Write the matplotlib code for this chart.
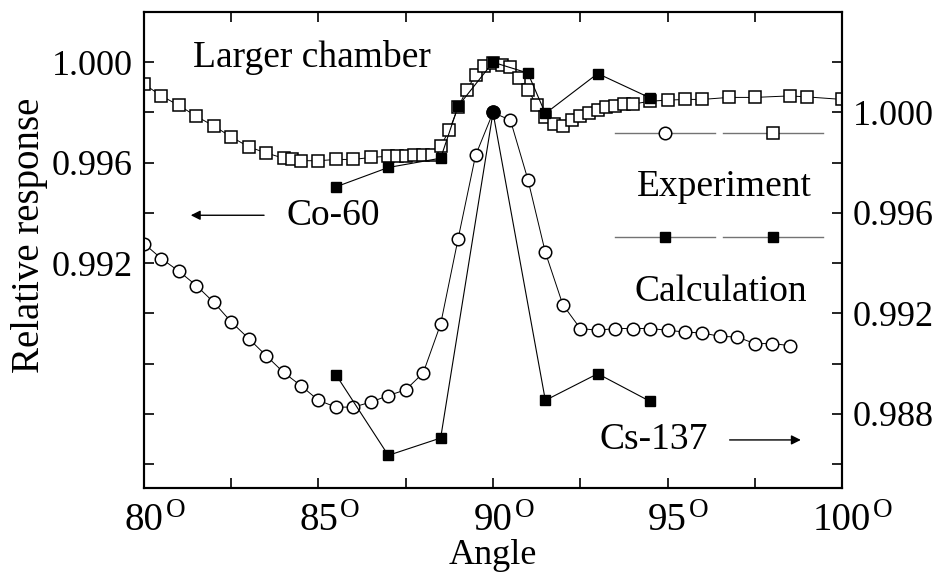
import matplotlib
matplotlib.use("Agg")
import numpy as np
from matplotlib import pyplot as plt
from matplotlib.lines import Line2D

plt.rcParams["font.family"] = ["Liberation Serif", "DejaVu Serif"]

# Co-60 (left axis), calculation = open squares
co_calc_x = [80.0, 80.5, 81.0, 81.5, 82.0, 82.5, 83.0, 83.5, 84.0, 84.25, 84.5,
             85.0, 85.5, 86.0, 86.5, 87.0, 87.25, 87.5, 87.75, 88.0, 88.25,
             88.5, 88.75, 89.0, 89.25, 89.5, 89.75, 90.0, 90.25, 90.5, 90.75,
             91.0, 91.25, 91.5, 91.75, 92.0, 92.25, 92.5, 92.75, 93.0, 93.25,
             93.5, 93.75, 94.0, 94.5, 95.0, 95.5, 96.0, 96.75, 97.5, 98.5,
             99.0, 100.0]
co_calc_y = [0.99913, 0.99866, 0.99828, 0.99785, 0.99746, 0.99703, 0.99663,
             0.99639, 0.99618, 0.99613, 0.99608, 0.99608, 0.99613, 0.99613,
             0.99621, 0.99626, 0.99628, 0.99628, 0.99629, 0.99629, 0.99629,
             0.99666, 0.99730, 0.99820, 0.99891, 0.99948, 0.99984, 0.99997,
             0.99991, 0.99981, 0.99939, 0.99891, 0.99829, 0.99782, 0.99753,
             0.99748, 0.99772, 0.99785, 0.99798, 0.99809, 0.99820, 0.99825,
             0.99832, 0.99833, 0.99845, 0.99849, 0.99852, 0.99852, 0.99860,
             0.99860, 0.99866, 0.99862, 0.99852]

# Co-60 experiment = filled squares
co_exp_x = [85.5, 87.0, 88.5, 89.0, 90.0, 91.0, 91.5, 93.0, 94.5]
co_exp_y = [0.99504, 0.99581, 0.99618, 0.99825, 1.00000, 0.99957, 0.99796,
            0.99955, 0.99858]

# Cs-137 (right axis), calculation = open circles
cs_calc_x = [80.0, 80.5, 81.0, 81.5, 82.0, 82.5, 83.0, 83.5, 84.0, 84.5, 85.0,
             85.5, 86.0, 86.5, 87.0, 87.5, 88.0, 88.5, 89.0, 89.5, 90.0, 90.5,
             91.0, 91.5, 92.0, 92.5, 93.0, 93.5, 94.0, 94.5, 95.0, 95.5, 96.0,
             96.5, 97.0, 97.5, 98.0, 98.5]
cs_calc_y = [0.99478, 0.99418, 0.99368, 0.99311, 0.99244, 0.99166, 0.99100,
             0.99032, 0.98965, 0.98912, 0.98854, 0.98827, 0.98827, 0.98847,
             0.98873, 0.98896, 0.98963, 0.99158, 0.99497, 0.99829, 1.00000,
             0.99969, 0.99733, 0.99443, 0.99235, 0.99140, 0.99133, 0.99140,
             0.99140, 0.99140, 0.99133, 0.99126, 0.99122, 0.99109, 0.99106,
             0.99080, 0.99080, 0.99072]

# Cs-137 experiment = filled squares (normalisation point drawn as dot)
cs_exp_x = [85.5, 87.0, 88.5, 90.0, 91.5, 93.0, 94.5]
cs_exp_y = [0.98956, 0.98635, 0.98704, 1.00000, 0.98854, 0.98960, 0.98850]
norm_angle = 90.0

x_ticks = [80, 85, 90, 95, 100]
left_labels = [0.992, 0.996, 1.000]
right_labels = [0.988, 0.992, 0.996, 1.000]

FS = 26
FS_TXT = 27

fig = plt.figure(figsize=(9.43, 5.80), dpi=100)
ax = fig.add_axes([0.1527, 0.1586, 0.7402, 0.8207])
ax2 = ax.twinx()

open_kw = dict(color="black", lw=0.7, mfc="white", mec="black", mew=1.1)

ax.plot(co_calc_x, co_calc_y, marker="s", ms=8.5, **open_kw)
ax.plot(co_exp_x, co_exp_y, color="black", lw=0.8, marker="s", ms=7,
        mfc="black", mec="black")

ax2.plot(cs_calc_x, cs_calc_y, marker="o", ms=9, **open_kw)
cs_exp_x = np.array(cs_exp_x)
cs_exp_y = np.array(cs_exp_y)
is_norm = cs_exp_x == norm_angle
ax2.plot(cs_exp_x, cs_exp_y, color="black", lw=0.8)
ax2.plot(cs_exp_x[~is_norm], cs_exp_y[~is_norm], ls="none", marker="s",
         ms=7, mfc="black", mec="black")
ax2.plot(cs_exp_x[is_norm], cs_exp_y[is_norm], ls="none", marker="o",
         ms=9.5, mfc="black", mec="black")

ax.set_xlim(80, 100)
ax.set_ylim(0.98305, 1.0020)
ax2.set_ylim(0.98505, 1.0040)

xt = np.arange(80, 100.1, 2.5)
ax.set_xticks(xt)
ax.set_xticklabels([f"{int(t)}" if t in x_ticks else "" for t in xt],
                   fontsize=28)
# degree mark hung at the top right of each angle label
for lab in ax.xaxis.get_majorticklabels():
    if lab.get_text():
        ax.annotate("O", xy=(1, 1), xytext=(1.5, 3), xycoords=lab,
                    textcoords="offset points", ha="left", va="top",
                    fontsize=19.5, annotation_clip=False)

lt = np.round(np.arange(0.984, 1.0001, 0.002), 3)
ax.set_yticks(lt)
ax.set_yticklabels([f"{t:.3f}" if t in left_labels else "" for t in lt],
                   fontsize=FS)
rt = np.round(np.arange(0.986, 1.0021, 0.002), 3)
ax2.set_yticks(rt)
ax2.set_yticklabels([f"{t:.3f}" if t in right_labels else "" for t in rt],
                    fontsize=FS)

ax.tick_params(axis="both", direction="in", length=7, width=1.2, pad=8,
               top=True, right=False)
ax.tick_params(axis="x", pad=10)
ax2.tick_params(axis="y", direction="in", length=7, width=1.2, pad=8)
for a in (ax, ax2):
    for s in a.spines.values():
        s.set_linewidth(1.5)

ax.set_xlabel("Angle", fontsize=FS, labelpad=0)
ax.set_ylabel("Relative response", fontsize=28)
ax.yaxis.set_label_coords(-0.137, 0.53)

# annotations
ax.text(0.241, 0.905, "Larger chamber", transform=ax.transAxes,
        fontsize=FS_TXT, ha="center", va="center")
ax.text(0.271, 0.573, "Co-60", transform=ax.transAxes, fontsize=FS_TXT,
        ha="center", va="center")
ax.annotate("", xy=(0.063, 0.573), xytext=(0.176, 0.573),
            xycoords="axes fraction",
            arrowprops=dict(arrowstyle="-|>", lw=1, color="black",
                            mutation_scale=14))
ax.text(0.730, 0.101, "Cs-137", transform=ax.transAxes, fontsize=FS_TXT,
        ha="center", va="center")
ax.annotate("", xy=(0.945, 0.101), xytext=(0.835, 0.101),
            xycoords="axes fraction",
            arrowprops=dict(arrowstyle="-|>", lw=1, color="black",
                            mutation_scale=14))
ax.text(0.832, 0.632, "Experiment", transform=ax.transAxes, fontsize=FS_TXT,
        ha="center", va="center")
ax.text(0.827, 0.412, "Calculation", transform=ax.transAxes, fontsize=FS_TXT,
        ha="center", va="center")

# legend keys
key_kw = dict(color="0.45", lw=1, mec="black")
open_keys = [Line2D([], [], marker="o", ms=9, mfc="white", mew=1.1, **key_kw),
             Line2D([], [], marker="s", ms=8.5, mfc="white", mew=1.1, **key_kw)]
fill_keys = [Line2D([], [], marker="s", ms=7, mfc="black", **key_kw),
             Line2D([], [], marker="s", ms=7, mfc="black", **key_kw)]
leg_kw = dict(ncol=2, frameon=False, fontsize=20, handlelength=3.6,
              handletextpad=0, columnspacing=0.3, borderpad=0, numpoints=1,
              loc="center")
leg1 = ax2.legend(open_keys, ["", ""], bbox_to_anchor=(0.824, 0.7395),
                  **leg_kw)
ax2.add_artist(leg1)
ax2.legend(fill_keys, ["", ""], bbox_to_anchor=(0.824, 0.521), **leg_kw)

fig.savefig("out.png", dpi=100)
